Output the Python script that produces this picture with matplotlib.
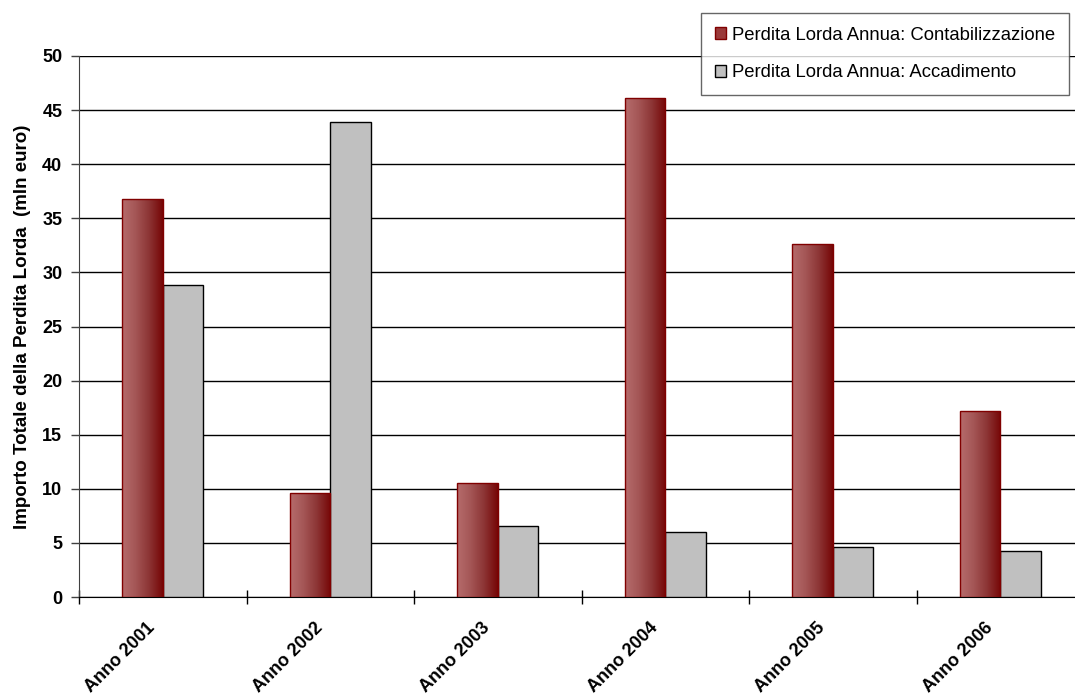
import numpy as np
import matplotlib
matplotlib.use('Agg')
import matplotlib.pyplot as plt
import matplotlib.transforms as mtrans
from matplotlib.colors import LinearSegmentedColormap
from matplotlib.patches import Patch

plt.rcParams['font.family'] = ['Liberation Sans', 'DejaVu Sans']

# Dati (mln euro)
anni = ['Anno 2001', 'Anno 2002', 'Anno 2003', 'Anno 2004', 'Anno 2005', 'Anno 2006']
contabilizzazione = [36.8, 9.6, 10.5, 46.1, 32.6, 17.2]
accadimento = [28.8, 43.9, 6.6, 6.0, 4.6, 4.25]
serie = ['Perdita Lorda Annua: Contabilizzazione', 'Perdita Lorda Annua: Accadimento']

fig = plt.figure(figsize=(10.75, 6.95), dpi=100)
ax = fig.add_axes([79 / 1075, 98 / 695, 1005 / 1075, 541 / 695])

x = np.arange(len(anni))
w = 0.242

bars_r = ax.bar(x - w / 2, contabilizzazione, w, color='#9a3a3a', edgecolor='#800000',
                linewidth=1, zorder=3)
bars_g = ax.bar(x + w / 2, accadimento, w, color='#c0c0c0', edgecolor='black',
                linewidth=1, zorder=3)

# sfumatura orizzontale sulle barre rosse
grad = LinearSegmentedColormap.from_list('rosso', ['#b66c6c', '#a45656', '#8c3434', '#760606'])
g = np.linspace(0, 1, 256).reshape(1, -1)
for b in bars_r:
    x0, y0 = b.get_x(), b.get_y()
    im = ax.imshow(g, cmap=grad, aspect='auto', zorder=3.5,
                   extent=[x0, x0 + b.get_width(), y0, y0 + b.get_height()])
    im.set_clip_path(b)
    b.set_facecolor('none')
    b.set_zorder(4)

ax.set_xlim(-0.5, len(anni) - 0.5)
ax.set_ylim(0, 50)
ax.set_yticks(np.arange(0, 51, 5))
ax.yaxis.grid(True, color='black', linewidth=1)
ax.set_axisbelow(True)

ax.set_xticks(np.arange(-0.5, len(anni), 1))
ax.set_xticklabels([])
ax.set_xticks(x, minor=True)
ax.set_xticklabels(anni, minor=True, rotation=45, ha='right', va='center',
                   rotation_mode='anchor', fontsize=13, fontweight='bold')
ax.tick_params(axis='x', which='minor', length=0, pad=17)
ax.tick_params(axis='x', which='major', direction='inout', length=10, width=1, color='black')
ax.tick_params(axis='y', direction='out', length=6, width=1, color='#404040',
               labelsize=13, pad=6)
for t in ax.get_yticklabels():
    t.set_fontweight('bold')

# etichette dell'asse x spostate verso sinistra e in basso
shift = mtrans.ScaledTranslation(-10 / 100, -5 / 100, fig.dpi_scale_trans)
for t in ax.get_xticklabels(minor=True):
    t.set_transform(t.get_transform() + shift)

for s in ['top', 'right']:
    ax.spines[s].set_visible(False)
ax.spines['left'].set_color('#404040')
ax.spines['bottom'].set_color('black')

ax.set_ylabel('Importo Totale della Perdita Lorda  (mln euro)', fontsize=13.5,
              fontweight='bold', labelpad=8)

handles = [Patch(facecolor='#9a3a3a', edgecolor='#800000'),
           Patch(facecolor='#c0c0c0', edgecolor='black')]
leg = fig.legend(handles, serie, loc='upper left', bbox_to_anchor=(701 / 1075, 1 - 13 / 695),
                 frameon=True, fancybox=False, fontsize=13.3, handlelength=0.6,
                 handleheight=0.6, handletextpad=0.35, labelspacing=1.1,
                 borderpad=0.75, borderaxespad=0)
leg.get_frame().set_edgecolor('#404040')
leg.get_frame().set_linewidth(1)

fig.savefig('out.png', dpi=100)
